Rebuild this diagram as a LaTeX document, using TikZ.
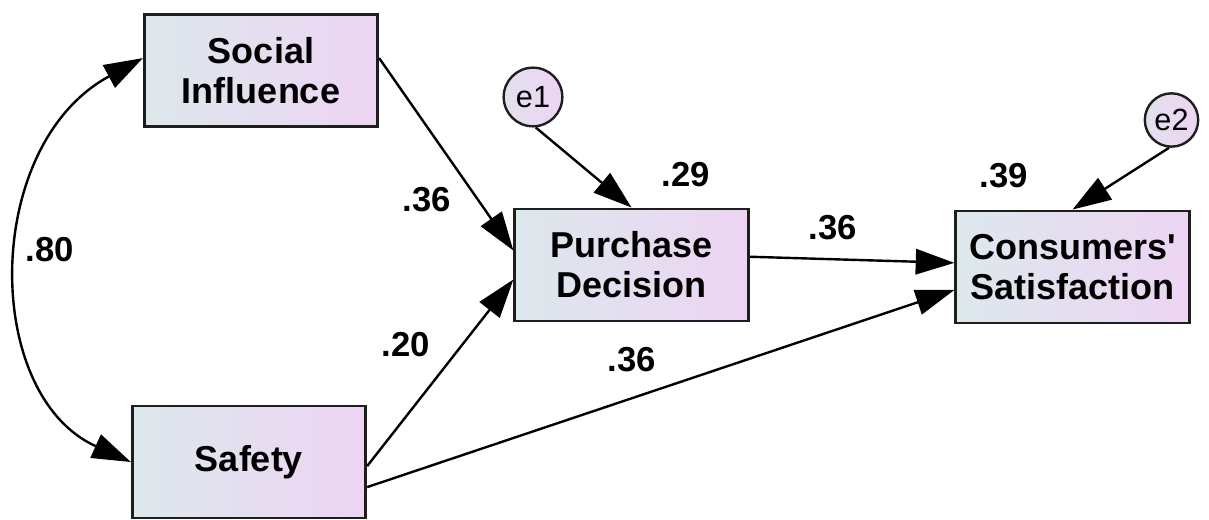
\documentclass[tikz,border=0pt]{standalone}
\usepackage{fontspec}
\setmainfont{Liberation Sans}
\usetikzlibrary{arrows.meta}
\usepackage{xcolor}
\definecolor{boxleft}{RGB}{221,232,236}
\definecolor{boxright}{RGB}{237,212,243}
\definecolor{boxline}{RGB}{30,30,30}

\begin{document}
\begin{tikzpicture}[x=0.75pt,y=0.75pt,yscale=-1,xscale=1,
  obsbox/.style={draw=boxline,line width=2.2pt,left color=boxleft,right color=boxright,minimum width=175pt,minimum height=84pt,inner sep=0pt,align=center,font=\fontsize{27}{30}\selectfont\bfseries},
  errcirc/.style={circle,draw=boxline,line width=1.8pt,left color=boxleft!60!boxright,right color=boxright,inner sep=0pt,font=\fontsize{23}{26}\selectfont},
  regline/.style={line width=1.8pt,-{Triangle[length=29pt,width=19pt]}},
  covline/.style={line width=1.8pt,{Triangle[length=29pt,width=19pt]}-{Triangle[length=29pt,width=19pt]}},
  coef/.style={inner sep=0.75pt,font=\fontsize{26}{30}\selectfont\bfseries}]
\useasboundingbox (0,0) rectangle (1209,520);

%Shape: observed variables
\node[obsbox] (si) at (261,70.5) {Social\\Influence};
\node[obsbox] (sa) at (249,462) {Safety};
\node[obsbox] (pd) at (631.5,265) {Purchase\\Decision};
\node[obsbox] (cs) at (1072.5,267) {Consumers\textquotesingle\\Satisfaction};

%Shape: error terms
\node[errcirc,minimum size=44pt] (e1) at (533,97) {e1};
\node[errcirc,minimum size=40pt] (e2) at (1171.5,120) {e2};

%Curve Lines: covariance
\draw[covline] (si.174) .. controls (-18,145) and (-18,395) .. (sa.west);

%Straight Lines: paths
\draw[regline] (si.6) -- (pd.173);
\draw[regline] (sa.358) -- (pd.187);
\draw[regline] (sa.348) -- (cs.191);
\draw[regline] (pd.4) -- (cs.178);
\draw[regline] (e1.275) -- (pd.north);
\draw[regline] (e2.265) -- (cs.north);

% Text Node
\node[coef] (c80) at (50,250) {.80};
% Text Node
\node[coef] (csipd) at (427,200) {.36};
% Text Node
\node[coef] (csapd) at (406,345) {.20};
% Text Node
\node[coef] (csacs) at (632,360) {.36};
% Text Node
\node[coef] (cpdcs) at (833,228) {.36};
% Text Node
\node[coef] (rpd) at (686,175) {.29};
% Text Node
\node[coef] (rcs) at (1004,176) {.39};

\end{tikzpicture}
\end{document}
